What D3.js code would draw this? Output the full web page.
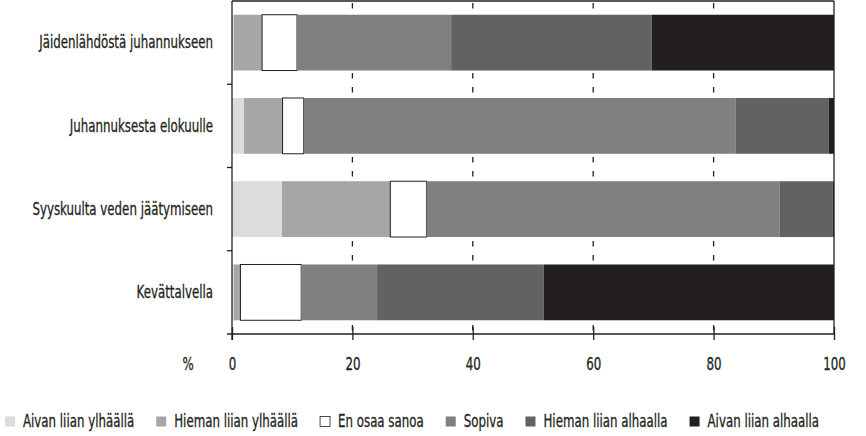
<!DOCTYPE html>
<html>
<head>
<meta charset="utf-8">
<script src="https://cdn.jsdelivr.net/npm/d3@7"></script>
<style>
  body { margin: 0; background: #fff; }
  text { font-family: "DejaVu Sans Condensed", "DejaVu Sans", sans-serif; fill: #231f20; stroke: #231f20; stroke-width: 0.3px; }
</style>
</head>
<body>
<div id="container"></div>
<script>
// categories (top to bottom)
const categories = ["Jäidenlähdöstä juhannukseen", "Juhannuksesta elokuulle", "Syyskuulta veden jäätymiseen", "Kevättalvella"];
// answer classes, left to right
const seriesNames = ["Aivan liian ylhäällä", "Hieman liian ylhäällä", "En osaa sanoa", "Sopiva", "Hieman liian alhaalla", "Aivan liian alhaalla"];
const seriesColors = ["#dcdcdc", "#a6a6a6", "#ffffff", "#808080", "#636263", "#231f20"];
// percentages per category
const aivanYlhaalla = [0.3, 2.0, 8.3, 0.3];
const hiemanYlhaalla = [4.7, 6.4, 18.0, 1.1];
const enOsaaSanoa = [5.8, 3.5, 6.0, 10.1];
const sopiva = [25.6, 71.8, 58.7, 12.6];
const hiemanAlhaalla = [33.3, 15.4, 8.8, 27.7];
const aivanAlhaalla = [30.3, 0.9, 0.2, 48.2];
const tickValues = [0, 20, 40, 60, 80, 100];

document.addEventListener("DOMContentLoaded", function() {
    const container = document.getElementById("container");
    const width = 866, height = 436;
    const margin = {top: 1, right: 32, bottom: 102, left: 232};
    const fontSize = 18;
    const squeeze = 0.73; // the original uses a narrow typeface

    const values = [aivanYlhaalla, hiemanYlhaalla, enOsaaSanoa, sopiva, hiemanAlhaalla, aivanAlhaalla];
    // build table rows for d3.stack
    const table = categories.map((c, i) => {
        const row = {category: c};
        seriesNames.forEach((s, j) => row[s] = values[j][i]);
        return row;
    });
    const stacked = d3.stack().keys(seriesNames)(table);

    const x = d3.scaleLinear().domain([0, 100]).range([margin.left, width - margin.right]);
    const y = d3.scaleBand().domain(categories)
        .range([margin.top, height - margin.bottom])
        .paddingInner(0.33).paddingOuter(0.165);
    const color = d3.scaleOrdinal().domain(seriesNames).range(seriesColors);

    const svg = d3.create("svg")
        .attr("width", width)
        .attr("height", height)
        .attr("viewBox", [0, 0, width, height]);
    container.append(svg.node()); // attach early so text can be measured

    const y0 = margin.top, y1 = height - margin.bottom;

    // narrow text: keep x position, squeeze glyphs horizontally
    function narrow(sel) {
        sel.attr("font-size", fontSize)
            .each(function() {
                const t = d3.select(this);
                const tx = +t.attr("x") || 0;
                t.attr("x", tx / squeeze).attr("transform", `scale(${squeeze},1)`);
            });
    }

    // dashed grid lines (show between the bars)
    svg.append("g")
        .attr("stroke", "#231f20")
        .attr("stroke-width", 1.3)
        .attr("stroke-dasharray", "5.5,8.5")
        .attr("stroke-dashoffset", 12)
      .selectAll("line")
      .data(tickValues.slice(1, -1))
      .join("line")
        .attr("x1", d => x(d)).attr("x2", d => x(d))
        .attr("y1", y0).attr("y2", y1);

    // bars
    svg.append("g")
      .selectAll("g")
      .data(stacked)
      .join("g")
        .attr("fill", d => color(d.key))
        .attr("stroke", d => d.key === "En osaa sanoa" ? "#231f20" : null)
        .attr("stroke-width", 1)
      .selectAll("rect")
      .data(d => d)
      .join("rect")
        .attr("x", d => x(d[0]))
        .attr("y", d => y(d.data.category))
        .attr("width", d => x(d[1]) - x(d[0]))
        .attr("height", y.bandwidth());

    // frame: top and right border
    const frame = svg.append("g").attr("stroke", "#231f20").attr("stroke-width", 1.3).attr("fill", "none");
    frame.append("line").attr("x1", x(0)).attr("x2", x(100)).attr("y1", y0).attr("y2", y0);
    frame.append("line").attr("x1", x(100)).attr("x2", x(100)).attr("y1", y0).attr("y2", y1);

    // bottom axis
    const xAxis = svg.append("g")
        .attr("transform", `translate(0,${y1})`)
        .call(d3.axisBottom(x).tickValues(tickValues).tickSize(6).tickPadding(17).tickFormat(d3.format("d")));
    xAxis.select(".domain").attr("stroke", "#231f20").attr("stroke-width", 1.3).attr("d", `M${x(0) - 5},0H${x(100)}`);
    xAxis.selectAll(".tick line").attr("stroke", "#231f20").attr("stroke-width", 1.3).attr("y1", -7).attr("y2", 6);
    xAxis.selectAll(".tick text").attr("fill", "#231f20").call(narrow);
    xAxis.append("text")
        .attr("x", 188).attr("y", 23).attr("dy", "0.71em")
        .attr("text-anchor", "middle")
        .text("%")
        .call(narrow);

    // left axis
    const yAxis = svg.append("g")
        .attr("transform", `translate(${x(0)},0)`)
        .call(d3.axisLeft(y).tickSize(0).tickPadding(19));
    yAxis.select(".domain").attr("stroke", "#231f20").attr("stroke-width", 1.3).attr("d", `M0,${y0}V${y1 + 6}`);
    yAxis.selectAll(".tick text").attr("fill", "#231f20").call(narrow);
    // small ticks at band boundaries
    yAxis.append("g")
        .attr("stroke", "#231f20").attr("stroke-width", 1.3)
      .selectAll("line")
      .data(categories.slice(1))
      .join("line")
        .attr("x1", -5).attr("x2", 0)
        .attr("y1", d => y(d) - y.step() * y.paddingInner() / 2)
        .attr("y2", d => y(d) - y.step() * y.paddingInner() / 2);

    // legend
    const legend = svg.append("g").attr("transform", "translate(5,427)");
    let lx = 0;
    seriesNames.forEach((s, i) => {
        const item = legend.append("g").attr("transform", `translate(${lx},0)`);
        item.append("rect")
            .attr("x", 0).attr("y", -10.5).attr("width", 10).attr("height", 10)
            .attr("fill", color(s))
            .attr("stroke", s === "En osaa sanoa" ? "#231f20" : "none")
            .attr("stroke-width", 0.8);
        const t = item.append("text")
            .attr("x", 18).attr("y", 0)
            .text(s)
            .call(narrow);
        lx += 18 + t.node().getComputedTextLength() * squeeze + 22;
    });
});
</script>
</body>
</html>
